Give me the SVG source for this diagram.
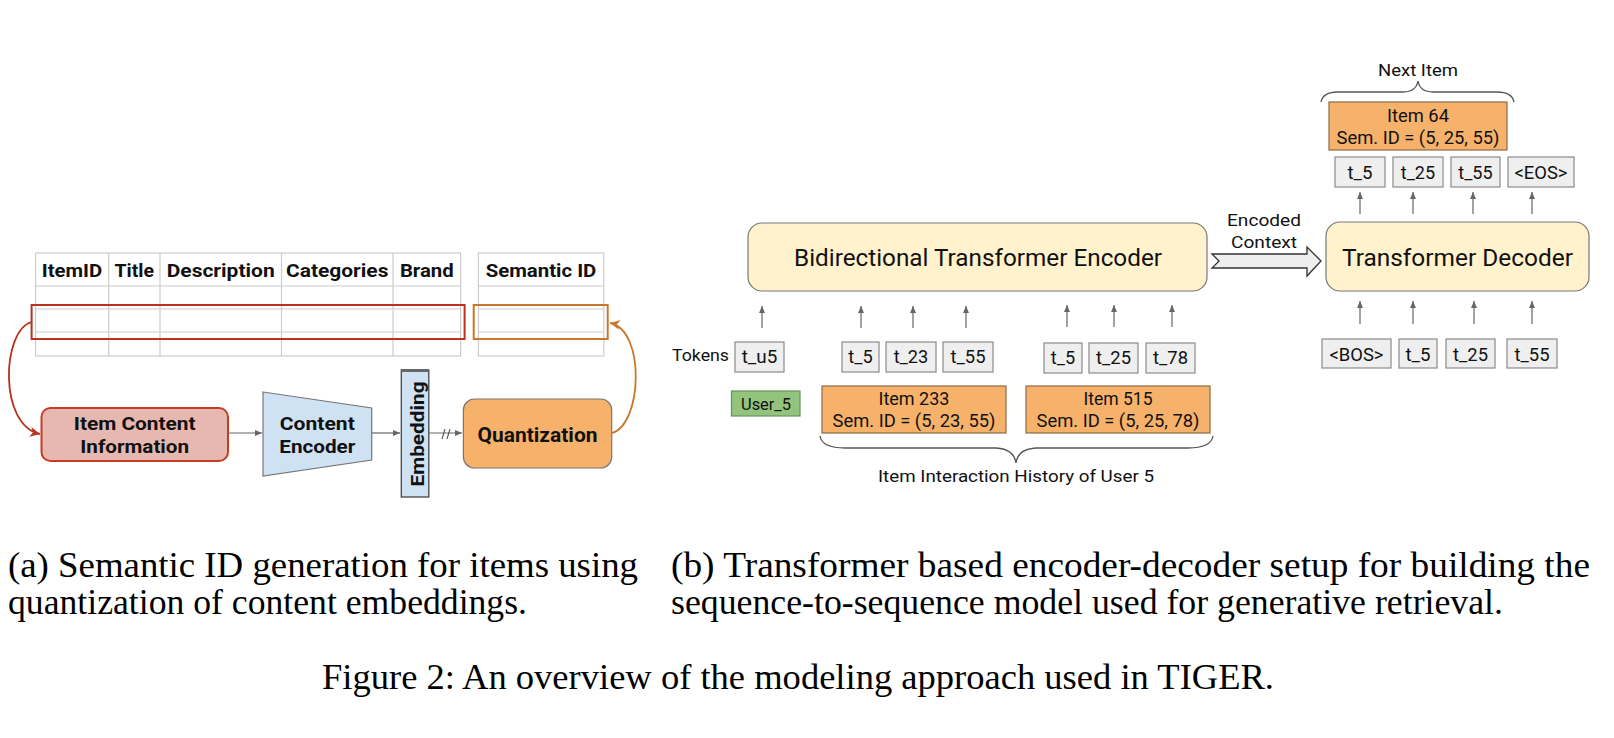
<svg xmlns="http://www.w3.org/2000/svg" width="1614" height="738" viewBox="0 0 1614 738">
<style>
.grid{stroke:#cccccc;stroke-width:1.2;fill:none}
.hdr{font-family:Roboto,"Liberation Sans",sans-serif;font-size:18px;font-weight:bold;fill:#111;text-anchor:middle}
.lbl{font-family:Roboto,"Liberation Sans",sans-serif;font-size:18px;font-weight:bold;fill:#111;text-anchor:middle}
.txt{font-family:Roboto,"Liberation Sans",sans-serif;font-size:17px;fill:#111;text-anchor:middle}
.tk{font-family:Roboto,"Liberation Sans",sans-serif;font-size:18px;fill:#111;text-anchor:middle}
.big{font-family:Roboto,"Liberation Sans",sans-serif;font-size:23.5px;fill:#111;text-anchor:middle}
.tok{fill:#efefef;stroke:#8a8a8a;stroke-width:1.2}
.item{fill:#f6b26b;stroke:#8e6a45;stroke-width:1.2}
.conn{stroke:#666;stroke-width:1.2;fill:none;marker-end:url(#ga)}
.cap{font-family:"Liberation Serif","Times New Roman",serif;font-size:35px;fill:#000}
.brace{fill:none;stroke:#555;stroke-width:1.3}
</style>
<defs>
<marker id="ga" markerWidth="8" markerHeight="8" refX="7" refY="4" orient="auto" markerUnits="userSpaceOnUse"><path d="M0,1 L7,4 L0,7 Z" fill="#666"/></marker>
<marker id="ra" markerWidth="12" markerHeight="12" refX="10" refY="6" orient="auto" markerUnits="userSpaceOnUse"><path d="M0,1 L10,6 L0,11 L3,6 Z" fill="#b8321c"/></marker>
<marker id="oa" markerWidth="12" markerHeight="12" refX="10" refY="6" orient="auto" markerUnits="userSpaceOnUse"><path d="M0,1 L10,6 L0,11 L3,6 Z" fill="#c8772c"/></marker>
</defs>

<g id="item-table">
<rect class="grid" x="35.6" y="253" width="425" height="103"/>
<line class="grid" x1="35.6" y1="286" x2="460.6" y2="286"/>
<line class="grid" x1="35.6" y1="309" x2="460.6" y2="309"/>
<line class="grid" x1="35.6" y1="332" x2="460.6" y2="332"/>
<line class="grid" x1="108.7" y1="253" x2="108.7" y2="356"/>
<line class="grid" x1="160" y1="253" x2="160" y2="356"/>
<line class="grid" x1="281.5" y1="253" x2="281.5" y2="356"/>
<line class="grid" x1="393" y1="253" x2="393" y2="356"/>
<text class="hdr" x="72" y="276.5" textLength="60.5" lengthAdjust="spacingAndGlyphs">ItemID</text>
<text class="hdr" x="134.3" y="276.5" textLength="39.5" lengthAdjust="spacingAndGlyphs">Title</text>
<text class="hdr" x="220.7" y="276.5" textLength="108" lengthAdjust="spacingAndGlyphs">Description</text>
<text class="hdr" x="337.2" y="276.5" textLength="102.4" lengthAdjust="spacingAndGlyphs">Categories</text>
<text class="hdr" x="426.8" y="276.5" textLength="53.8" lengthAdjust="spacingAndGlyphs">Brand</text>
<rect x="31.6" y="305" width="433" height="34" fill="none" stroke="#b8321c" stroke-width="2"/>
</g>

<g id="semantic-table">
<rect class="grid" x="478.4" y="253" width="125.4" height="103"/>
<line class="grid" x1="478.4" y1="286" x2="603.8" y2="286"/>
<line class="grid" x1="478.4" y1="309" x2="603.8" y2="309"/>
<line class="grid" x1="478.4" y1="332" x2="603.8" y2="332"/>
<text class="hdr" x="541" y="276.5" textLength="110.7" lengthAdjust="spacingAndGlyphs">Semantic ID</text>
<rect x="473.7" y="305" width="134" height="34" fill="none" stroke="#c8772c" stroke-width="2"/>
</g>

<g id="item-content">
<rect x="41.5" y="408" width="186.5" height="53" rx="9" fill="#e6b8af" stroke="#c43d22" stroke-width="2"/>
<text class="lbl" x="134.7" y="430" textLength="121.8" lengthAdjust="spacingAndGlyphs">Item Content</text>
<text class="lbl" x="134.7" y="453" textLength="108.7" lengthAdjust="spacingAndGlyphs">Information</text>
</g>

<g id="content-encoder">
<polygon points="263,392 371.7,408 371.7,460 263,476" fill="#cfe2f3" stroke="#777" stroke-width="1.2"/>
<text class="lbl" x="317.3" y="429.5" textLength="75" lengthAdjust="spacingAndGlyphs">Content</text>
<text class="lbl" x="317.3" y="452.5" textLength="76" lengthAdjust="spacingAndGlyphs">Encoder</text>
</g>

<g id="embedding">
<rect x="401.3" y="370" width="27.5" height="127" fill="#cfe2f3" stroke="#444" stroke-width="1.3"/>
<line x1="401.3" y1="370.5" x2="428.8" y2="370.5" stroke="#666" stroke-width="3"/>
<text class="lbl" transform="translate(423.5,434) rotate(-90)" x="0" y="0" textLength="105" lengthAdjust="spacingAndGlyphs">Embedding</text>
</g>

<g id="quantization">
<rect x="463.4" y="399" width="148.3" height="69" rx="11" fill="#f6b26b" stroke="#777" stroke-width="1.2"/>
<text class="lbl" x="537.5" y="441.5" style="font-size:20px" textLength="120" lengthAdjust="spacingAndGlyphs">Quantization</text>
</g>

<g id="part-b-encoder">
<rect x="748" y="223" width="459" height="68" rx="14" fill="#fff2cc" stroke="#777" stroke-width="1.2"/>
<text class="big" x="978" y="266" textLength="368" lengthAdjust="spacingAndGlyphs">Bidirectional Transformer Encoder</text>
</g>

<g id="part-b-decoder">
<rect x="1326" y="222" width="263" height="69" rx="14" fill="#fff2cc" stroke="#777" stroke-width="1.2"/>
<text class="big" x="1457.5" y="266" textLength="231" lengthAdjust="spacingAndGlyphs">Transformer Decoder</text>
</g>

<g id="encoded-context">
<polygon points="1212,254 1307,254 1307,247 1321,261 1307,276 1307,268 1212,268 1219,261" fill="#eeeeee" stroke="#333" stroke-width="1.3"/>
<text class="txt" x="1264" y="226" textLength="74" lengthAdjust="spacingAndGlyphs">Encoded</text>
<text class="txt" x="1264" y="248" textLength="66" lengthAdjust="spacingAndGlyphs">Context</text>
</g>

<g id="tokens-label"><text class="txt" x="700.5" y="361" textLength="57" lengthAdjust="spacingAndGlyphs">Tokens</text></g>

<g id="enc-tokens">
<rect class="tok" x="735" y="342" width="49" height="30"/><text class="tk" x="759.5" y="363" textLength="35.7" lengthAdjust="spacingAndGlyphs">t_u5</text>
<rect class="tok" x="842" y="342" width="37" height="30"/><text class="tk" x="860.5" y="363" textLength="24.3" lengthAdjust="spacingAndGlyphs">t_5</text>
<rect class="tok" x="886" y="342" width="50" height="30"/><text class="tk" x="911" y="363" textLength="34.7" lengthAdjust="spacingAndGlyphs">t_23</text>
<rect class="tok" x="943" y="342" width="50" height="30"/><text class="tk" x="968" y="363" textLength="35" lengthAdjust="spacingAndGlyphs">t_55</text>
<rect class="tok" x="1044" y="343" width="38" height="30"/><text class="tk" x="1063" y="364" textLength="24.3" lengthAdjust="spacingAndGlyphs">t_5</text>
<rect class="tok" x="1089" y="343" width="49" height="30"/><text class="tk" x="1113.5" y="364" textLength="35" lengthAdjust="spacingAndGlyphs">t_25</text>
<rect class="tok" x="1146" y="343" width="49" height="30"/><text class="tk" x="1170.5" y="364" textLength="35" lengthAdjust="spacingAndGlyphs">t_78</text>
</g>

<g id="user5">
<rect x="731.5" y="391" width="68.5" height="25" fill="#93c47d" stroke="#6b8f5b" stroke-width="1.2"/>
<text class="txt" x="766" y="410" textLength="50" lengthAdjust="spacingAndGlyphs">User_5</text>
</g>

<g id="item233">
<rect class="item" x="822" y="386" width="184" height="47"/>
<text class="tk" x="914" y="405" textLength="71" lengthAdjust="spacingAndGlyphs">Item 233</text>
<text class="tk" x="914" y="427" textLength="163" lengthAdjust="spacingAndGlyphs">Sem. ID = (5, 23, 55)</text>
</g>

<g id="item515">
<rect class="item" x="1026" y="386" width="184" height="47"/>
<text class="tk" x="1118" y="405" textLength="69" lengthAdjust="spacingAndGlyphs">Item 515</text>
<text class="tk" x="1118" y="427" textLength="163" lengthAdjust="spacingAndGlyphs">Sem. ID = (5, 25, 78)</text>
</g>

<g id="history-brace">
<path class="brace" d="M820,436 Q822,448 845,448 L996,448 Q1014,449 1016,463 Q1018,449 1036,448 L1188,448 Q1211,448 1213,436"/>
<text class="txt" x="1016" y="482" textLength="276" lengthAdjust="spacingAndGlyphs">Item Interaction History of User 5</text>
</g>

<g id="item64">
<rect class="item" x="1329" y="102" width="178" height="48"/>
<text class="tk" x="1418" y="122" textLength="62" lengthAdjust="spacingAndGlyphs">Item 64</text>
<text class="tk" x="1418" y="144" textLength="163" lengthAdjust="spacingAndGlyphs">Sem. ID = (5, 25, 55)</text>
</g>

<g id="next-item-brace">
<path class="brace" d="M1321,102 Q1323,92 1338,92 L1403,92 Q1416,92 1418,81 Q1420,92 1433,92 L1497,92 Q1512,92 1514,102"/>
<text class="txt" x="1418" y="76" textLength="80" lengthAdjust="spacingAndGlyphs">Next Item</text>
</g>

<g id="dec-out-tokens">
<rect class="tok" x="1335" y="157" width="50" height="30"/><text class="tk" x="1360" y="179" textLength="25" lengthAdjust="spacingAndGlyphs">t_5</text>
<rect class="tok" x="1393" y="157" width="50" height="30"/><text class="tk" x="1418" y="179" textLength="34.3" lengthAdjust="spacingAndGlyphs">t_25</text>
<rect class="tok" x="1451" y="157" width="49" height="30"/><text class="tk" x="1475.5" y="179" textLength="34.3" lengthAdjust="spacingAndGlyphs">t_55</text>
<rect class="tok" x="1508" y="157" width="66" height="30"/><text class="tk" x="1541" y="179" textLength="53" lengthAdjust="spacingAndGlyphs">&lt;EOS&gt;</text>
</g>

<g id="dec-in-tokens">
<rect class="tok" x="1322" y="339" width="69" height="29"/><text class="tk" x="1356.5" y="361" textLength="54" lengthAdjust="spacingAndGlyphs">&lt;BOS&gt;</text>
<rect class="tok" x="1399" y="339" width="38" height="29"/><text class="tk" x="1418" y="361" textLength="25" lengthAdjust="spacingAndGlyphs">t_5</text>
<rect class="tok" x="1446" y="339" width="49" height="29"/><text class="tk" x="1470.5" y="361" textLength="35" lengthAdjust="spacingAndGlyphs">t_25</text>
<rect class="tok" x="1507" y="339" width="50" height="29"/><text class="tk" x="1532" y="361" textLength="35" lengthAdjust="spacingAndGlyphs">t_55</text>
</g>

<g id="connectors">
<path d="M31.6,322 C2,330 -2,425 40,434" fill="none" stroke="#b8321c" stroke-width="1.8" marker-end="url(#ra)"/>
<path d="M612,433 C642,425 646,330 610,323" fill="none" stroke="#c8772c" stroke-width="1.8" marker-end="url(#oa)"/>
<line class="conn" x1="228" y1="433" x2="262" y2="433"/>
<line class="conn" x1="372" y1="433" x2="400" y2="433"/>
<line class="conn" x1="429" y1="433" x2="462" y2="433"/>
<path d="M442,439 L445,429 M447,439 L450,429" stroke="#555" stroke-width="1.1" fill="none"/>
<line class="conn" x1="762" y1="328" x2="762" y2="306"/>
<line class="conn" x1="861" y1="328" x2="861" y2="306"/>
<line class="conn" x1="913" y1="328" x2="913" y2="306"/>
<line class="conn" x1="966" y1="328" x2="966" y2="306"/>
<line class="conn" x1="1067" y1="327" x2="1067" y2="305"/>
<line class="conn" x1="1114" y1="327" x2="1114" y2="305"/>
<line class="conn" x1="1172" y1="327" x2="1172" y2="305"/>
<line class="conn" x1="1360" y1="214" x2="1360" y2="192"/>
<line class="conn" x1="1413" y1="214" x2="1413" y2="192"/>
<line class="conn" x1="1473" y1="214" x2="1473" y2="192"/>
<line class="conn" x1="1532" y1="214" x2="1532" y2="192"/>
<line class="conn" x1="1360" y1="324" x2="1360" y2="301"/>
<line class="conn" x1="1413" y1="324" x2="1413" y2="301"/>
<line class="conn" x1="1474" y1="324" x2="1474" y2="301"/>
<line class="conn" x1="1532" y1="324" x2="1532" y2="301"/>
</g>

<g id="captions">
<text class="cap" x="8" y="577" textLength="630" lengthAdjust="spacingAndGlyphs">(a) Semantic ID generation for items using</text>
<text class="cap" x="8" y="614" textLength="519" lengthAdjust="spacingAndGlyphs">quantization of content embeddings.</text>
<text class="cap" x="671" y="577" textLength="919" lengthAdjust="spacingAndGlyphs">(b) Transformer based encoder-decoder setup for building the</text>
<text class="cap" x="671" y="614" textLength="832" lengthAdjust="spacingAndGlyphs">sequence-to-sequence model used for generative retrieval.</text>
<text class="cap" x="322" y="689" textLength="952" lengthAdjust="spacingAndGlyphs">Figure 2: An overview of the modeling approach used in TIGER.</text>
</g>
</svg>
